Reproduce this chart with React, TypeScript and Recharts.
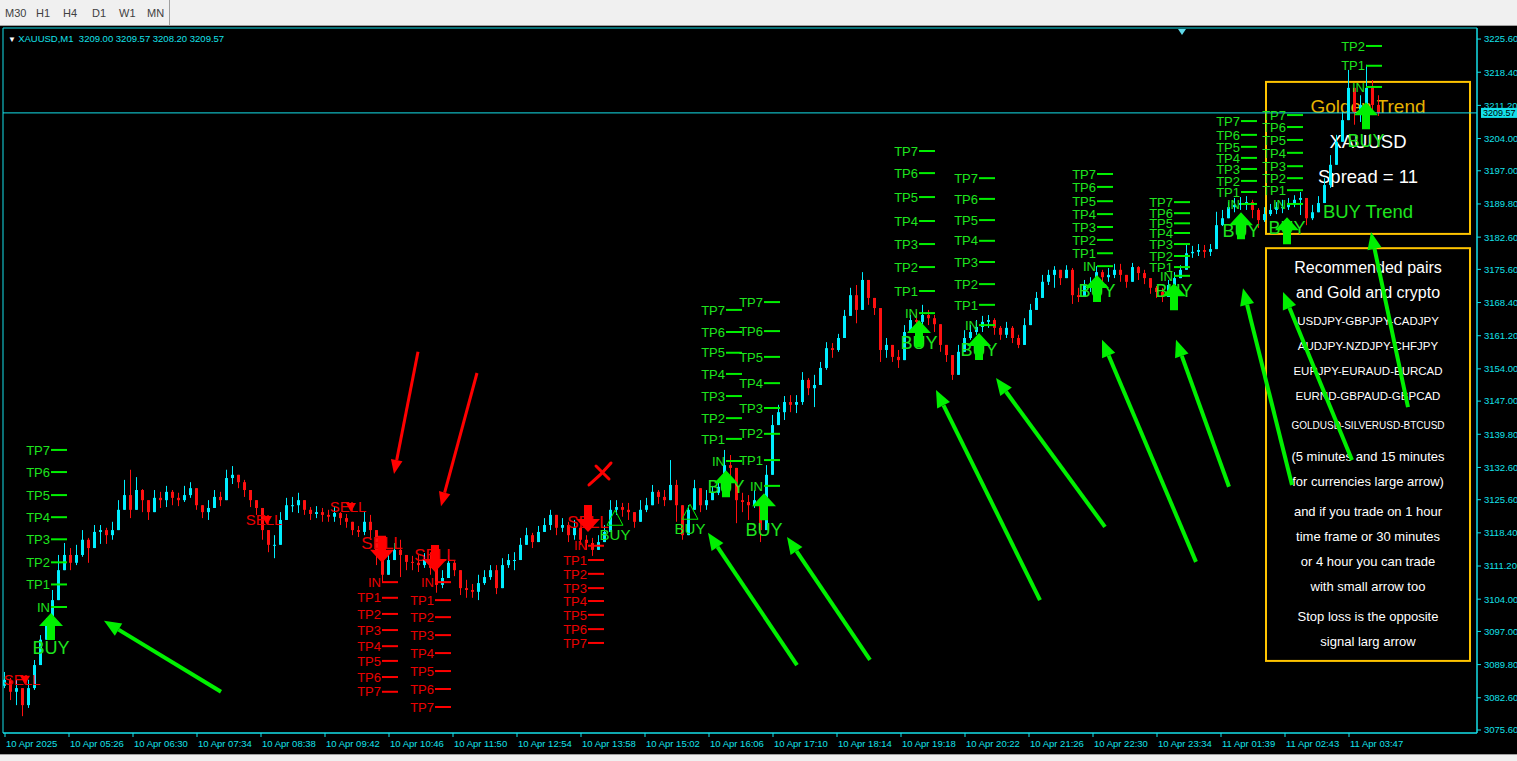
import React from "react"
import {
    ComposedChart,
    Bar,
    XAxis,
    YAxis,
    ReferenceLine,
    ReferenceDot,
    ReferenceArea,
} from "recharts"

// XAUUSD M1, one candle drawn per 6 bars
const FIRST_OPEN = 3085.2
const closes = [
    3086.5, 3083.9, 3084.7, 3081.0, 3084.7, 3089.7, 3095.2, 3098.4, 3103.8, 3110.3,
    3113.6, 3111.9, 3113.6, 3116.9, 3115.1, 3118.6, 3119.0, 3117.9, 3119.0, 3123.4,
    3126.6, 3123.4, 3127.7, 3125.5, 3122.9, 3126.0, 3125.5, 3127.3, 3126.0, 3125.5,
    3126.6, 3128.1, 3124.4, 3122.9, 3123.8, 3126.2, 3125.5, 3130.3, 3131.0, 3129.4,
    3127.7, 3125.5, 3123.8, 3119.0, 3115.8, 3115.8, 3121.2, 3124.4, 3124.4, 3125.5,
    3123.4, 3122.5, 3122.9, 3122.3, 3121.9, 3122.7, 3121.6, 3120.8, 3119.0, 3118.6,
    3120.8, 3119.0, 3113.6, 3109.3, 3112.5, 3114.7, 3113.6, 3112.1, 3111.9, 3111.4,
    3112.5, 3110.8, 3107.1, 3108.6, 3111.9, 3110.3, 3106.4, 3106.0, 3105.6, 3107.5,
    3108.8, 3110.3, 3106.4, 3111.4, 3112.5, 3112.5, 3115.8, 3117.9, 3116.4, 3118.6,
    3120.1, 3122.3, 3119.5, 3120.1, 3117.9, 3119.5, 3116.9, 3116.2, 3114.7, 3116.4,
    3118.6, 3123.4, 3124.0, 3123.4, 3122.9, 3120.8, 3123.4, 3124.4, 3127.3, 3126.2,
    3125.5, 3128.8, 3124.4, 3117.9, 3123.4, 3128.1, 3124.4, 3125.5, 3127.1, 3128.4,
    3133.1, 3132.5, 3125.5, 3125.1, 3124.4, 3125.5, 3119.0, 3131.0, 3141.8, 3144.6,
    3146.8, 3146.2, 3146.8, 3151.6, 3149.8, 3150.5, 3154.2, 3158.5, 3158.1, 3160.7,
    3165.5, 3170.0, 3166.8, 3173.3, 3169.4, 3167.2, 3158.1, 3159.2, 3156.6, 3155.9,
    3162.0, 3164.6, 3164.2, 3165.7, 3165.0, 3163.7, 3159.2, 3157.0, 3152.7, 3157.7,
    3160.7, 3162.0, 3163.1, 3164.2, 3164.6, 3162.9, 3161.4, 3162.9, 3160.7, 3159.2,
    3163.5, 3166.8, 3169.4, 3172.9, 3174.4, 3175.5, 3173.7, 3175.5, 3170.0, 3169.6,
    3172.2, 3172.2, 3175.0, 3173.9, 3174.4, 3175.5, 3174.4, 3172.9, 3176.1, 3174.8,
    3173.7, 3171.6, 3170.7, 3169.6, 3172.2, 3173.7, 3175.5, 3179.1, 3179.4, 3179.8,
    3179.4, 3180.0, 3185.2, 3186.7, 3189.1, 3189.6, 3190.0, 3190.2, 3188.5, 3186.3,
    3187.6, 3188.5, 3189.1, 3189.1, 3190.0, 3190.7, 3191.1, 3186.7, 3188.0, 3190.0,
    3193.9, 3198.3, 3203.3, 3208.0, 3215.0, 3209.8, 3211.3, 3215.0, 3211.3, 3209.57,
]
const highs = [
    3088.2, 3086.9, 3086.5, 3084.3, 3086.5, 3090.8, 3096.2, 3099.9, 3106.0, 3113.6,
    3116.2, 3115.1, 3115.8, 3119.0, 3117.3, 3120.1, 3120.1, 3119.5, 3120.8, 3125.5,
    3129.9, 3132.1, 3130.5, 3127.9, 3124.9, 3127.7, 3127.3, 3128.6, 3127.7, 3127.1,
    3128.6, 3129.4, 3128.1, 3124.4, 3125.5, 3127.7, 3127.3, 3132.1, 3132.9, 3131.0,
    3129.9, 3127.3, 3125.5, 3122.3, 3117.9, 3117.9, 3122.9, 3126.0, 3126.2, 3127.1,
    3125.5, 3124.0, 3124.2, 3123.8, 3123.4, 3124.0, 3122.9, 3122.5, 3120.3, 3119.9,
    3122.9, 3122.3, 3116.9, 3112.1, 3113.6, 3116.2, 3116.9, 3113.6, 3113.4, 3113.6,
    3114.0, 3114.2, 3110.3, 3110.3, 3113.6, 3112.5, 3109.3, 3108.2, 3107.3, 3109.3,
    3110.3, 3111.4, 3111.4, 3112.9, 3113.8, 3114.2, 3117.3, 3119.5, 3118.4, 3119.9,
    3121.6, 3123.4, 3122.3, 3121.6, 3120.8, 3121.2, 3119.7, 3117.9, 3117.3, 3117.9,
    3120.1, 3125.5, 3125.5, 3124.9, 3124.9, 3122.9, 3125.5, 3126.0, 3128.8, 3127.7,
    3127.7, 3134.2, 3129.9, 3123.4, 3124.4, 3129.9, 3127.7, 3127.7, 3128.6, 3129.9,
    3136.4, 3135.3, 3132.1, 3127.1, 3126.6, 3127.7, 3125.5, 3133.1, 3144.0, 3146.2,
    3148.1, 3148.3, 3148.3, 3153.3, 3152.0, 3152.7, 3155.5, 3159.8, 3159.6, 3161.6,
    3166.8, 3171.6, 3172.2, 3175.0, 3173.3, 3169.4, 3165.0, 3160.7, 3159.2, 3158.1,
    3163.5, 3165.7, 3166.3, 3167.9, 3166.8, 3165.7, 3163.5, 3159.2, 3155.9, 3159.2,
    3162.4, 3163.5, 3164.6, 3165.5, 3165.7, 3165.0, 3163.3, 3164.2, 3163.3, 3161.4,
    3165.0, 3168.1, 3170.7, 3174.4, 3175.5, 3176.3, 3175.5, 3176.5, 3175.9, 3171.6,
    3173.3, 3173.9, 3176.3, 3175.5, 3175.9, 3176.8, 3176.8, 3174.4, 3177.0, 3176.3,
    3175.5, 3173.3, 3172.0, 3171.6, 3173.3, 3175.0, 3176.5, 3180.9, 3180.7, 3181.1,
    3180.9, 3181.1, 3188.1, 3188.5, 3190.2, 3191.1, 3191.3, 3191.5, 3190.7, 3188.9,
    3189.1, 3189.8, 3190.2, 3190.7, 3191.1, 3191.7, 3192.4, 3189.6, 3189.6, 3191.5,
    3195.4, 3200.4, 3204.8, 3209.8, 3218.9, 3213.4, 3213.4, 3220.0, 3216.7, 3213.4,
]
const lows = [
    3084.7, 3082.1, 3081.0, 3078.6, 3080.4, 3084.3, 3090.8, 3095.2, 3097.3, 3103.8,
    3110.3, 3110.3, 3111.4, 3113.2, 3111.9, 3115.8, 3116.0, 3116.0, 3116.9, 3120.8,
    3123.4, 3121.6, 3125.5, 3122.9, 3121.2, 3123.4, 3123.8, 3124.0, 3124.4, 3124.2,
    3125.1, 3126.0, 3123.4, 3121.6, 3121.2, 3124.4, 3124.2, 3125.5, 3129.0, 3128.1,
    3126.2, 3124.0, 3122.3, 3116.9, 3114.2, 3112.9, 3117.9, 3122.3, 3122.9, 3122.7,
    3122.3, 3121.2, 3121.6, 3120.8, 3120.8, 3120.8, 3120.1, 3119.5, 3117.9, 3117.5,
    3117.9, 3116.9, 3111.4, 3107.7, 3109.3, 3112.5, 3108.8, 3110.3, 3110.3, 3109.9,
    3110.8, 3109.3, 3105.4, 3106.4, 3109.9, 3109.0, 3104.9, 3104.3, 3104.3, 3103.8,
    3107.1, 3108.2, 3105.1, 3108.2, 3110.8, 3110.3, 3112.9, 3115.8, 3115.1, 3116.9,
    3118.6, 3119.0, 3117.9, 3118.6, 3116.4, 3116.9, 3115.8, 3114.7, 3113.4, 3114.7,
    3116.9, 3119.0, 3122.3, 3121.9, 3121.2, 3119.5, 3120.8, 3122.9, 3125.5, 3124.7,
    3124.2, 3126.6, 3120.8, 3116.9, 3120.1, 3125.5, 3122.9, 3123.4, 3125.5, 3126.6,
    3128.8, 3130.3, 3120.5, 3122.9, 3121.2, 3123.8, 3116.4, 3121.2, 3136.4, 3142.9,
    3142.9, 3144.6, 3144.4, 3146.2, 3148.3, 3145.7, 3151.6, 3153.8, 3156.4, 3157.7,
    3162.4, 3166.8, 3163.9, 3167.9, 3167.9, 3165.7, 3155.5, 3156.4, 3155.5, 3154.2,
    3158.1, 3162.4, 3162.9, 3163.5, 3163.5, 3162.0, 3157.7, 3155.5, 3151.6, 3153.8,
    3158.5, 3160.3, 3161.4, 3162.0, 3162.9, 3161.4, 3160.3, 3160.7, 3159.6, 3158.5,
    3160.3, 3164.2, 3166.8, 3170.0, 3172.2, 3171.6, 3172.2, 3173.7, 3168.1, 3168.5,
    3170.7, 3170.7, 3172.9, 3172.4, 3172.9, 3173.7, 3172.9, 3171.6, 3173.7, 3173.3,
    3172.4, 3170.3, 3169.4, 3168.5, 3170.5, 3172.2, 3173.7, 3177.2, 3178.1, 3178.5,
    3178.1, 3178.5, 3181.5, 3185.0, 3187.4, 3188.0, 3188.5, 3188.5, 3186.7, 3184.6,
    3185.9, 3187.2, 3187.6, 3187.8, 3188.5, 3189.1, 3187.4, 3185.2, 3186.3, 3188.5,
    3191.7, 3193.3, 3200.4, 3204.1, 3210.2, 3207.0, 3207.6, 3212.8, 3209.1, 3208.9,
]

const xTickBars = [2, 66, 130, 194, 258, 322, 386, 450, 514, 578, 642, 706, 770, 834, 898, 962, 1026, 1090, 1154, 1218, 1282, 1346]
const xTickLabels = [
    "10 Apr 2025", "10 Apr 05:26", "10 Apr 06:30", "10 Apr 07:34", "10 Apr 08:38", "10 Apr 09:42",
    "10 Apr 10:46", "10 Apr 11:50", "10 Apr 12:54", "10 Apr 13:58", "10 Apr 15:02", "10 Apr 16:06",
    "10 Apr 17:10", "10 Apr 18:14", "10 Apr 19:18", "10 Apr 20:22", "10 Apr 21:26", "10 Apr 22:30",
    "10 Apr 23:34", "11 Apr 01:39", "11 Apr 02:43", "11 Apr 03:47",
]
const priceTicks = [
    3225.6, 3218.4, 3211.2, 3204.0, 3197.0, 3189.8, 3182.6, 3175.6, 3168.4, 3161.2, 3154.0,
    3147.0, 3139.8, 3132.6, 3125.6, 3118.4, 3111.2, 3104.0, 3097.0, 3089.8, 3082.6, 3075.6,
]
const LAST_PRICE = 3209.57

// big BUY signals with their IN / TP ladders
const buyBars = [48, 723, 761, 916, 976, 1094, 1171, 1238, 1284, 1363]
const buyEntry = [3102.3, 3134.0, 3128.6, 3166.1, 3163.5, 3176.3, 3174.2, 3189.8, 3189.8, 3215.2]
const buyArrowAt = [3101.0, 3132.0, 3127.0, 3164.6, 3161.8, 3174.4, 3172.6, 3188.0, 3186.9, 3211.9]
const buyLabelAt = [3093.4, 3128.4, 3119.2, 3159.8, 3158.1, 3171.1, 3171.1, 3184.1, 3184.6, 3203.5]
const buyTargets = [
    [3107.2, 3112.0, 3117.0, 3121.8, 3126.6, 3131.6, 3136.4],
    [3138.8, 3143.3, 3148.1, 3152.9, 3157.5, 3162.0, 3166.8],
    [3134.2, 3139.9, 3145.5, 3150.9, 3156.6, 3162.2, 3168.5],
    [3170.9, 3176.1, 3181.1, 3186.1, 3191.3, 3196.5, 3201.3],
    [3167.9, 3172.4, 3177.2, 3181.8, 3186.3, 3190.9, 3195.4],
    [3179.1, 3182.0, 3184.8, 3187.6, 3190.4, 3193.5, 3196.3],
    [3176.1, 3178.5, 3181.1, 3183.5, 3185.6, 3187.8, 3190.2],
    [3192.4, 3194.8, 3197.4, 3199.8, 3202.2, 3204.8, 3207.8],
    [3192.8, 3195.4, 3198.0, 3200.9, 3203.7, 3206.5, 3209.1],
    [3219.8, 3224.1, 3228.5, 3233.0, 3237.4, 3241.9, 3246.3],
]

// big SELL signals
const sellBars = [379, 432, 585]
const sellEntry = [3107.7, 3107.7, 3115.6]
const sellArrowAt = [3111.9, 3109.9, 3118.6]
const sellLabelAt = [3116.2, 3113.6, 3120.8]
const sellTargets = [
    [3104.3, 3100.8, 3097.3, 3093.8, 3090.6, 3087.1, 3083.9],
    [3103.8, 3100.1, 3096.2, 3092.3, 3088.4, 3084.5, 3080.6],
    [3112.5, 3109.5, 3106.4, 3103.6, 3100.6, 3097.5, 3094.5],
]

// small arrow hints
const hintSides = ["SELL", "SELL", "SELL", "BUY", "BUY"]
const hintBars = [19, 261, 345, 612, 687]
const hintAt = [3086.5, 3121.2, 3124.0, 3118.1, 3119.4]

// hand drawn pointers [bar, price]
const greenTails = [[218, 3083.9], [794, 3089.7], [867, 3090.8], [1037, 3103.8], [1102, 3119.7], [1193, 3112.1], [1226, 3128.4], [1289, 3128.8], [1349, 3134.2], [1405, 3145.7]]
const greenTips = [[101, 3099.3], [705, 3118.4], [784, 3117.5], [933, 3149.4], [993, 3152.0], [1099, 3160.3], [1173, 3160.3], [1240, 3171.5], [1280, 3170.7], [1368, 3183.7]]
const redTails = [[415, 3157.7], [474, 3153.1]]
const redTips = [[391, 3131.2], [438, 3124.2]]
const crossBar = 597
const crossPrice = 3131.4

const goldenLines = ["Golden Trend", "XAUUSD", "Spread = 11", "BUY Trend"]
const pairsLines = [
    "Recommended pairs", "and Gold and crypto", "USDJPY-GBPJPY-CADJPY", "AUDJPY-NZDJPY-CHFJPY",
    "EURJPY-EURAUD-EURCAD", "EURND-GBPAUD-GBPCAD", "GOLDUSD-SILVERUSD-BTCUSD",
    "(5 minutes and 15 minutes", "for currencies large arrow)", "and if you trade on 1 hour",
    "time frame or 30 minutes", "or 4 hour you can trade", "with small arrow too",
    "Stop loss is the opposite", "signal larg arrow",
]

const FONT = "'Liberation Sans', Arial, sans-serif"
const AXIS = "#14e0ea"
const UP = "#00eeff"
const DOWN = "#ff1010"
const GREEN = "#00f000"
const GREEN_TEXT = "#1ee41e"
const RED = "#ff0000"
const RED_TEXT = "#ea0000"
const GOLD = "#ffc400"
const Y_MIN = 3074.95
const Y_MAX = 3228.0
const X_MAX = 1474
const CANDLE_STEP = 6

const GOLDEN_LAYOUT = [
    { dy: 24, size: 19, color: "#e6b400" },
    { dy: 59, size: 18.5, color: "#ffffff" },
    { dy: 94, size: 18.5, color: "#ffffff" },
    { dy: 129, size: 18.5, color: GREEN_TEXT },
]
const PAIRS_LAYOUT = [
    { dy: 19, size: 16 }, { dy: 44, size: 16 }, { dy: 73, size: 11.5 }, { dy: 98, size: 11.5 },
    { dy: 123, size: 11.5 }, { dy: 148, size: 11.5 }, { dy: 177, size: 10 }, { dy: 208, size: 13 },
    { dy: 233, size: 13 }, { dy: 263, size: 13 }, { dy: 288, size: 13 }, { dy: 313, size: 13 },
    { dy: 338, size: 13 }, { dy: 368, size: 13 }, { dy: 393, size: 13 },
]

const candles = closes.map((close, i) => {
    const open = i === 0 ? FIRST_OPEN : closes[i - 1]
    return {
        bar: 1 + i * CANDLE_STEP,
        open,
        close,
        high: Math.max(highs[i], open, close),
        low: Math.min(lows[i], open, close),
    }
})

function CandleShape(props: any) {
    const { x, y, width, height, payload } = props
    if (!payload || !isFinite(y) || !isFinite(height)) return null
    const top = Math.min(y, y + height)
    const h = Math.abs(height)
    const span = payload.high - payload.low || 1
    const toY = (v: number) => top + ((payload.high - v) / span) * h
    const color = payload.close >= payload.open ? UP : DOWN
    const cx = Math.round(x + width / 2) + 0.5
    const bTop = toY(Math.max(payload.open, payload.close))
    const bBot = toY(Math.min(payload.open, payload.close))
    return (
        <g>
            <line x1={cx} x2={cx} y1={top} y2={top + h} stroke={color} strokeWidth={1} />
            <rect x={cx - 1.5} y={bTop} width={3} height={Math.max(1, bBot - bTop)} fill={color} />
        </g>
    )
}

function TimeTick({ x, y, payload }: any) {
    const i = xTickBars.indexOf(payload.value)
    return (
        <text x={x + 1} y={y} dy={8} textAnchor="start" fill={AXIS} fontSize={9.5} fontFamily={FONT}>
            {xTickLabels[i]}
        </text>
    )
}

function LadderMark({ cx, cy, text, color, lineColor }: any) {
    return (
        <g>
            <text x={cx - 1} y={cy} dy="0.36em" textAnchor="end" fontSize={13} fontFamily={FONT} fill={color}>
                {text}
            </text>
            <line x1={cx} x2={cx + 16} y1={cy} y2={cy} stroke={lineColor} strokeWidth={2} />
        </g>
    )
}

function BigArrow({ cx, cy, up, color }: any) {
    const s = up ? 1 : -1
    const pts = [[0, 0], [12, 13], [4, 13], [4, 27], [-4, 27], [-4, 13], [-12, 13]]
        .map(([dx, dy]) => `${cx + dx},${cy + s * dy}`)
        .join(" ")
    return <polygon points={pts} fill={color} />
}

function SignalText({ cx, cy, text, color, size }: any) {
    return (
        <text x={cx} y={cy} dy="0.36em" textAnchor="middle" fontSize={size} fontFamily={FONT} fill={color}>
            {text}
        </text>
    )
}

function HintMark({ cx, cy, side }: any) {
    const buy = side === "BUY"
    const color = buy ? GREEN_TEXT : RED_TEXT
    return (
        <g>
            <text x={cx} y={cy} dy="0.36em" textAnchor="middle" fontSize={15} fontFamily={FONT} fill={color}>
                {side}
            </text>
            {buy ? (
                <polygon
                    points={`${cx - 8},${cy - 9} ${cx + 8},${cy - 9} ${cx},${cy - 24}`}
                    fill="none"
                    stroke={GREEN}
                    strokeWidth={1}
                />
            ) : (
                <polygon points={`${cx - 2},${cy - 4} ${cx + 8},${cy - 4} ${cx + 3},${cy + 5}`} fill={RED} />
            )}
        </g>
    )
}

function Pointer({ x1, y1, x2, y2, color, width, head }: any) {
    const dx = x2 - x1
    const dy = y2 - y1
    const len = Math.hypot(dx, dy) || 1
    const ux = dx / len
    const uy = dy / len
    const bx = x2 - ux * head
    const by = y2 - uy * head
    const half = head * 0.42
    return (
        <g>
            <line x1={x1} y1={y1} x2={bx} y2={by} stroke={color} strokeWidth={width} />
            <polygon
                points={`${x2},${y2} ${bx - uy * half},${by + ux * half} ${bx + uy * half},${by - ux * half}`}
                fill={color}
            />
        </g>
    )
}

function InfoBox({ x, y, width, height, lines, layout }: any) {
    const cx = x + width / 2
    return (
        <g>
            <rect x={x} y={y} width={width} height={height} fill="none" stroke={GOLD} strokeWidth={2} />
            {lines.map((t: string, i: number) => (
                <text
                    key={t}
                    x={cx}
                    y={y + layout[i].dy}
                    dy="0.36em"
                    textAnchor="middle"
                    fontSize={layout[i].size}
                    fontFamily={FONT}
                    fill={layout[i].color || "#ffffff"}
                >
                    {t}
                </text>
            ))}
        </g>
    )
}

function Cross({ cx, cy }: any) {
    return (
        <g fill="none" stroke={RED} strokeWidth={3} strokeLinecap="round">
            <path d={`M ${cx - 11} ${cy + 12} Q ${cx + 1} ${cy + 2} ${cx + 11} ${cy - 10}`} />
            <path d={`M ${cx - 4} ${cy - 7} L ${cx + 9} ${cy + 6}`} />
        </g>
    )
}

function PriceTag({ cx, cy }: any) {
    return (
        <g>
            <rect x={cx + 4} y={cy - 5} width={40} height={10} fill={AXIS} />
            <text x={cx + 6} y={cy} dy="0.36em" fontSize={9} fontFamily={FONT} fill="#000000">
                {LAST_PRICE.toFixed(2)}
            </text>
        </g>
    )
}

function ladder(bars: number[], entry: number[], targets: number[][], color: string, lineColor: string, key: string) {
    const out: React.ReactNode[] = []
    bars.forEach((bar, i) => {
        out.push(
            <ReferenceDot
                key={`${key}-in-${i}`}
                x={bar}
                y={entry[i]}
                shape={(p: any) => <LadderMark cx={p.cx} cy={p.cy} text="IN" color={color} lineColor={lineColor} />}
            />
        )
        targets[i].forEach((tp, j) => {
            out.push(
                <ReferenceDot
                    key={`${key}-tp-${i}-${j}`}
                    x={bar}
                    y={tp}
                    shape={(p: any) => (
                        <LadderMark cx={p.cx} cy={p.cy} text={`TP${j + 1}`} color={color} lineColor={lineColor} />
                    )}
                />
            )
        })
    })
    return out
}

export default function App() {
    return (
        <div style={{ position: "absolute", left: 0, top: 0, width: 1517, height: 761, background: "#000", overflow: "hidden" }}>
            <div style={{ position: "absolute", left: 0, top: 0 }}>
                <ComposedChart width={1517} height={761} data={candles} margin={{ top: 28, right: 0, bottom: 10, left: 3 }}>
                    <XAxis
                        dataKey="bar"
                        type="number"
                        domain={[0, X_MAX]}
                        ticks={xTickBars}
                        interval={0}
                        allowDataOverflow
                        height={18}
                        tickSize={4}
                        axisLine={{ stroke: AXIS }}
                        tickLine={{ stroke: AXIS }}
                        tick={<TimeTick />}
                    />
                    <YAxis
                        orientation="right"
                        type="number"
                        domain={[Y_MIN, Y_MAX]}
                        ticks={priceTicks}
                        interval={0}
                        allowDataOverflow
                        width={40}
                        tickSize={4}
                        tickMargin={3}
                        axisLine={{ stroke: AXIS }}
                        tickLine={{ stroke: AXIS }}
                        tick={{ fill: AXIS, fontSize: 9.5, fontFamily: FONT }}
                        tickFormatter={(v: number) => v.toFixed(2)}
                    />
                    <ReferenceArea x1={0} x2={X_MAX} y1={Y_MIN} y2={Y_MAX} fill="none" stroke={AXIS} ifOverflow="visible" />
                    <ReferenceArea
                        x1={1263}
                        x2={1467}
                        y1={3183.3}
                        y2={3216.3}
                        shape={(p: any) => <InfoBox {...p} lines={goldenLines} layout={GOLDEN_LAYOUT} />}
                    />
                    <ReferenceArea
                        x1={1263}
                        x2={1467}
                        y1={3090.6}
                        y2={3180.2}
                        shape={(p: any) => <InfoBox {...p} lines={pairsLines} layout={PAIRS_LAYOUT} />}
                    />
                    <ReferenceLine y={LAST_PRICE} stroke={AXIS} strokeWidth={1} />
                    <Bar
                        dataKey={(d: any) => [d.low, d.high]}
                        barSize={5}
                        shape={<CandleShape />}
                        isAnimationActive={false}
                    />
                    {ladder(buyBars, buyEntry, buyTargets, GREEN_TEXT, GREEN, "b")}
                    {ladder(sellBars, sellEntry, sellTargets, RED_TEXT, RED, "s")}
                    {hintBars.map((bar, i) => (
                        <ReferenceDot
                            key={`h-${i}`}
                            x={bar}
                            y={hintAt[i]}
                            shape={(p: any) => <HintMark cx={p.cx} cy={p.cy} side={hintSides[i]} />}
                        />
                    ))}
                    {buyBars.map((bar, i) => (
                        <ReferenceDot
                            key={`bt-${i}`}
                            x={bar}
                            y={buyLabelAt[i]}
                            shape={(p: any) => <SignalText cx={p.cx} cy={p.cy} text="BUY" color={GREEN_TEXT} size={18} />}
                        />
                    ))}
                    {sellBars.map((bar, i) => (
                        <ReferenceDot
                            key={`st-${i}`}
                            x={bar}
                            y={sellLabelAt[i]}
                            shape={(p: any) => <SignalText cx={p.cx} cy={p.cy} text="SELL" color={RED_TEXT} size={17} />}
                        />
                    ))}
                    {buyBars.map((bar, i) => (
                        <ReferenceDot
                            key={`ba-${i}`}
                            x={bar}
                            y={buyArrowAt[i]}
                            shape={(p: any) => <BigArrow cx={p.cx} cy={p.cy} up color={GREEN} />}
                        />
                    ))}
                    {sellBars.map((bar, i) => (
                        <ReferenceDot
                            key={`sa-${i}`}
                            x={bar}
                            y={sellArrowAt[i]}
                            shape={(p: any) => <BigArrow cx={p.cx} cy={p.cy} up={false} color={RED} />}
                        />
                    ))}
                    {greenTails.map((t, i) => (
                        <ReferenceLine
                            key={`ga-${i}`}
                            segment={[{ x: t[0], y: t[1] }, { x: greenTips[i][0], y: greenTips[i][1] }]}
                            shape={(p: any) => <Pointer {...p} color={GREEN} width={4} head={17} />}
                        />
                    ))}
                    {redTails.map((t, i) => (
                        <ReferenceLine
                            key={`ra-${i}`}
                            segment={[{ x: t[0], y: t[1] }, { x: redTips[i][0], y: redTips[i][1] }]}
                            shape={(p: any) => <Pointer {...p} color={RED} width={3} head={14} />}
                        />
                    ))}
                    <ReferenceDot x={crossBar} y={crossPrice} shape={(p: any) => <Cross cx={p.cx} cy={p.cy} />} />
                    <ReferenceDot
                        x={X_MAX}
                        y={LAST_PRICE}
                        ifOverflow="visible"
                        shape={(p: any) => <PriceTag cx={p.cx} cy={p.cy} />}
                    />
                </ComposedChart>
            </div>

            {/* terminal toolbar */}
            <div
                style={{
                    position: "absolute",
                    left: 0,
                    top: 0,
                    width: 1517,
                    height: 25,
                    background: "#f0f0f0",
                    borderBottom: "1px solid #a0a0a0",
                    fontFamily: FONT,
                    fontSize: 11,
                    color: "#404040",
                }}
            >
                {[["M30", 5], ["H1", 36], ["H4", 63], ["D1", 92], ["W1", 119], ["MN", 147]].map(([t, l]) => (
                    <span key={t as string} style={{ position: "absolute", left: l as number, top: 7 }}>
                        {t}
                    </span>
                ))}
                <div style={{ position: "absolute", left: 169, top: 0, width: 1, height: 25, background: "#a0a0a0" }} />
            </div>

            {/* symbol header */}
            <div
                style={{
                    position: "absolute",
                    left: 8,
                    top: 33,
                    fontFamily: FONT,
                    fontSize: 9.5,
                    lineHeight: "12px",
                    color: AXIS,
                    whiteSpace: "pre",
                }}
            >
                <span style={{ color: "#ffffff", fontSize: 8 }}>▼ </span>
                {"XAUUSD,M1  3209.00 3209.57 3208.20 3209.57"}
            </div>

            {/* chart shift marker */}
            <div
                style={{
                    position: "absolute",
                    left: 1178,
                    top: 29,
                    width: 0,
                    height: 0,
                    borderLeft: "4px solid transparent",
                    borderRight: "4px solid transparent",
                    borderTop: "6px solid #60d8e8",
                }}
            />

            <div
                style={{
                    position: "absolute",
                    left: 0,
                    top: 754,
                    width: 1517,
                    height: 7,
                    background: "#f0f0f0",
                    borderTop: "1px solid #a0a0a0",
                }}
            />
        </div>
    )
}
